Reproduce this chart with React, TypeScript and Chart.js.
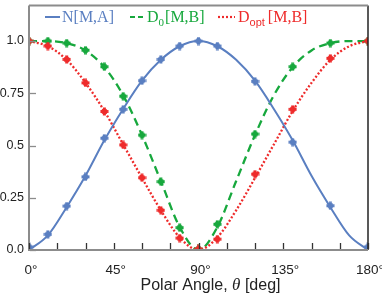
import React, { useEffect, useRef } from "react";
import { Chart, registerables } from "chart.js";

Chart.register(...registerables);

// ---- data ----
const fitAngles = [0, 10, 20, 30, 40, 50, 60, 70, 80, 90, 100, 110, 120, 130, 140, 150, 160, 170, 180];
const nFit = [0, 0.07, 0.205, 0.355, 0.525, 0.675, 0.81, 0.91, 0.975, 1.0, 0.975, 0.91, 0.81, 0.675, 0.525, 0.355, 0.205, 0.07, 0];
const d0Fit = [1.0, 1.0, 0.99, 0.955, 0.875, 0.74, 0.55, 0.33, 0.11, 0, 0.11, 0.33, 0.55, 0.74, 0.875, 0.955, 0.99, 1.0, 1.0];
const doptFit = [1.0, 0.975, 0.91, 0.8, 0.665, 0.505, 0.345, 0.19, 0.06, 0, 0.06, 0.19, 0.345, 0.505, 0.665, 0.8, 0.91, 0.975, 1.0];

const nAngles = [0, 10, 20, 30, 40, 50, 60, 70, 80, 90, 100, 120, 140, 160, 180];
const nValues = [0.015, 0.075, 0.21, 0.35, 0.535, 0.673, 0.81, 0.912, 0.976, 1.0, 0.976, 0.807, 0.516, 0.212, 0.015];
const dAngles = [0, 10, 20, 30, 40, 50, 60, 70, 80, 90, 100, 120, 140, 160, 180];
const d0Values = [1.0, 1.0, 0.99, 0.956, 0.877, 0.736, 0.55, 0.327, 0.107, 0.005, 0.123, 0.555, 0.877, 0.99, 1.0];
const doptValues = [1.0, 0.976, 0.912, 0.8, 0.663, 0.503, 0.346, 0.19, 0.057, 0.005, 0.052, 0.363, 0.673, 0.917, 1.0];

const xTickValues = [0, 15, 30, 45, 60, 75, 90, 105, 120, 135, 150, 165, 180];
const xLabelValues = [0, 45, 90, 135, 180];
const xLabels = ["0\u00b0", "45\u00b0", "90\u00b0", "135\u00b0", "180\u00b0"];
const yTickValues = [0, 0.25, 0.5, 0.75, 1.0];
const yTickLabels = ["0.0", "0.25", "0.5", "0.75", "1.0"];

const BLUE = "#5a7fc1";
const GREEN = "#17a83d";
const RED = "#ee2b2b";
const AXIS_GRAY = "#8c8c8c";
const SANS = "'Liberation Sans', Arial, sans-serif";
const SERIF = "'Liberation Serif', 'Times New Roman', serif";

function makeMarker(color: string): HTMLCanvasElement {
  const c = document.createElement("canvas");
  c.width = 9;
  c.height = 9;
  const g = c.getContext("2d")!;
  g.fillStyle = color;
  g.fillRect(3, 0.5, 3, 8);
  g.fillRect(0.5, 3, 8, 3);
  g.beginPath();
  g.arc(4.5, 4.5, 3, 0, Math.PI * 2);
  g.fill();
  return c;
}

const pts = (xs: number[], ys: number[]) => xs.map((x, i) => ({ x, y: ys[i] }));

const decorPlugin = {
  id: "decor",
  afterDraw(chart: any) {
    const ctx = chart.ctx as CanvasRenderingContext2D;
    const xs = chart.scales.x;
    const ys = chart.scales.y;
    const a = chart.chartArea;
    ctx.save();
    // frame
    ctx.lineWidth = 1.5;
    ctx.strokeStyle = "#222";
    ctx.beginPath();
    ctx.moveTo(a.right, a.top);
    ctx.lineTo(a.right, a.bottom);
    ctx.stroke();
    ctx.strokeStyle = AXIS_GRAY;
    ctx.lineWidth = 2;
    ctx.beginPath();
    ctx.moveTo(a.left, a.top);
    ctx.lineTo(a.right, a.top);
    ctx.stroke();
    ctx.beginPath();
    ctx.moveTo(a.left, a.top);
    ctx.lineTo(a.left, a.bottom);
    ctx.lineTo(a.right, a.bottom);
    ctx.stroke();
    // ticks
    ctx.strokeStyle = "#333";
    ctx.lineWidth = 1.3;
    for (const v of xTickValues) {
      const px = Math.round(xs.getPixelForValue(v)) + 0.5;
      ctx.beginPath();
      ctx.moveTo(px, a.bottom - 1);
      ctx.lineTo(px, a.bottom - 7);
      ctx.stroke();
    }
    ctx.strokeStyle = AXIS_GRAY;
    for (const v of yTickValues) {
      const py = Math.round(ys.getPixelForValue(v)) + 0.5;
      ctx.beginPath();
      ctx.moveTo(a.left + 1, py);
      ctx.lineTo(a.left + 7, py);
      ctx.stroke();
    }
    // tick labels
    ctx.fillStyle = "#222";
    ctx.font = `13.5px ${SANS}`;
    ctx.textAlign = "center";
    ctx.textBaseline = "alphabetic";
    xLabelValues.forEach((v, i) => {
      ctx.fillText(xLabels[i], xs.getPixelForValue(v) + 2, 273.5);
    });
    ctx.font = `12.5px ${SANS}`;
    ctx.textAlign = "right";
    ctx.textBaseline = "middle";
    yTickValues.forEach((v, i) => {
      ctx.fillText(yTickLabels[i], 24, ys.getPixelForValue(v));
    });

    // legend
    const ly = 17;
    ctx.textBaseline = "alphabetic";
    ctx.textAlign = "left";
    ctx.setLineDash([]);
    ctx.strokeStyle = BLUE;
    ctx.lineWidth = 2;
    ctx.beginPath();
    ctx.moveTo(45, ly);
    ctx.lineTo(60, ly);
    ctx.stroke();
    ctx.fillStyle = BLUE;
    ctx.font = `16px ${SERIF}`;
    ctx.fillText("N[M,A]", 62, 22);
    // D0
    ctx.strokeStyle = GREEN;
    ctx.lineWidth = 2.2;
    ctx.setLineDash([5, 3]);
    ctx.beginPath();
    ctx.moveTo(130, ly);
    ctx.lineTo(143, ly);
    ctx.stroke();
    ctx.setLineDash([]);
    ctx.fillStyle = GREEN;
    let x = 147;
    ctx.font = `16px ${SERIF}`;
    ctx.fillText("D", x, 22);
    x += ctx.measureText("D").width;
    ctx.font = `11px ${SERIF}`;
    ctx.fillText("0", x, 26);
    x += ctx.measureText("0").width + 1;
    ctx.font = `16px ${SERIF}`;
    ctx.fillText("[M,B]", x, 22);
    // Dopt
    ctx.strokeStyle = RED;
    ctx.lineWidth = 2.2;
    ctx.setLineDash([2, 2]);
    ctx.beginPath();
    ctx.moveTo(218, ly);
    ctx.lineTo(235, ly);
    ctx.stroke();
    ctx.setLineDash([]);
    ctx.fillStyle = RED;
    x = 238;
    ctx.font = `16px ${SERIF}`;
    ctx.fillText("D", x, 22);
    x += ctx.measureText("D").width;
    ctx.font = `11px ${SANS}`;
    ctx.fillText("opt", x, 26);
    x += ctx.measureText("opt").width + 3;
    ctx.font = `16px ${SERIF}`;
    ctx.fillText("[M,B]", x, 22);

    // x-axis title
    ctx.fillStyle = "#222";
    const p1 = "Polar Angle, ";
    const p2 = "\u03b8";
    const p3 = " [deg]";
    ctx.font = `16px ${SANS}`;
    const w1 = ctx.measureText(p1).width;
    const w3 = ctx.measureText(p3).width;
    ctx.font = `italic 17px ${SERIF}`;
    const w2 = ctx.measureText(p2).width;
    const total = w1 + w2 + w3;
    let tx = (a.left + a.right) / 2 + 12 - total / 2;
    const ty = 290;
    ctx.font = `16px ${SANS}`;
    ctx.fillText(p1, tx, ty);
    tx += w1;
    ctx.font = `italic 17px ${SERIF}`;
    ctx.fillText(p2, tx, ty);
    tx += w2;
    ctx.font = `16px ${SANS}`;
    ctx.fillText(p3, tx, ty);
    ctx.restore();
  },
};

export default function App() {
  const ref = useRef<HTMLCanvasElement | null>(null);
  useEffect(() => {
    document.body.style.margin = "0";
    const canvas = ref.current!;
    const blueM = makeMarker(BLUE);
    const greenM = makeMarker(GREEN);
    const redM = makeMarker(RED);
    const chart = new Chart(canvas, {
      type: "line",
      data: {
        datasets: [
          {
            label: "D0 fit",
            data: pts(fitAngles, d0Fit),
            borderColor: GREEN,
            borderWidth: 2.3,
            borderDash: [8, 5],
            pointRadius: 0,
            cubicInterpolationMode: "monotone",
            fill: false,
            order: 6,
          },
          {
            label: "Dopt fit",
            data: pts(fitAngles, doptFit),
            borderColor: RED,
            borderWidth: 2.3,
            borderDash: [2, 2],
            pointRadius: 0,
            cubicInterpolationMode: "monotone",
            fill: false,
            order: 5,
          },
          {
            label: "N fit",
            data: pts(fitAngles, nFit),
            borderColor: BLUE,
            borderWidth: 2,
            pointRadius: 0,
            cubicInterpolationMode: "monotone",
            fill: false,
            order: 4,
          },
          {
            label: "N[M,A]",
            data: pts(nAngles, nValues),
            showLine: false,
            pointStyle: blueM as any,
            pointRadius: 4.5,
            order: 3,
          },
          {
            label: "D0 [M,B]",
            data: pts(dAngles, d0Values),
            showLine: false,
            pointStyle: greenM as any,
            pointRadius: 4.5,
            order: 2,
          },
          {
            label: "Dopt [M,B]",
            data: pts(dAngles, doptValues),
            showLine: false,
            pointStyle: redM as any,
            pointRadius: 4.5,
            order: 1,
          },
        ],
      },
      options: {
        animation: false,
        responsive: false,
        devicePixelRatio: 1,
        layout: { padding: { top: 1, right: 14, left: 0, bottom: 0 } },
        plugins: { legend: { display: false }, tooltip: { enabled: false }, title: { display: false } },
        scales: {
          x: {
            type: "linear",
            min: 0,
            max: 180,
            grid: { display: false, drawTicks: false },
            border: { display: false },
            ticks: { display: false },
            afterFit: (s: any) => {
              s.height = 51;
            },
          },
          y: {
            type: "linear",
            min: 0,
            max: 1.17,
            grid: { display: false, drawTicks: false },
            border: { display: false },
            ticks: { display: false },
            afterFit: (s: any) => {
              s.width = 29;
            },
          },
        },
      },
      plugins: [decorPlugin],
    });
    return () => chart.destroy();
  }, []);
  return (
    <div style={{ width: 382, height: 301 }}>
      <canvas ref={ref} width={382} height={301} style={{ display: "block" }} />
    </div>
  );
}
